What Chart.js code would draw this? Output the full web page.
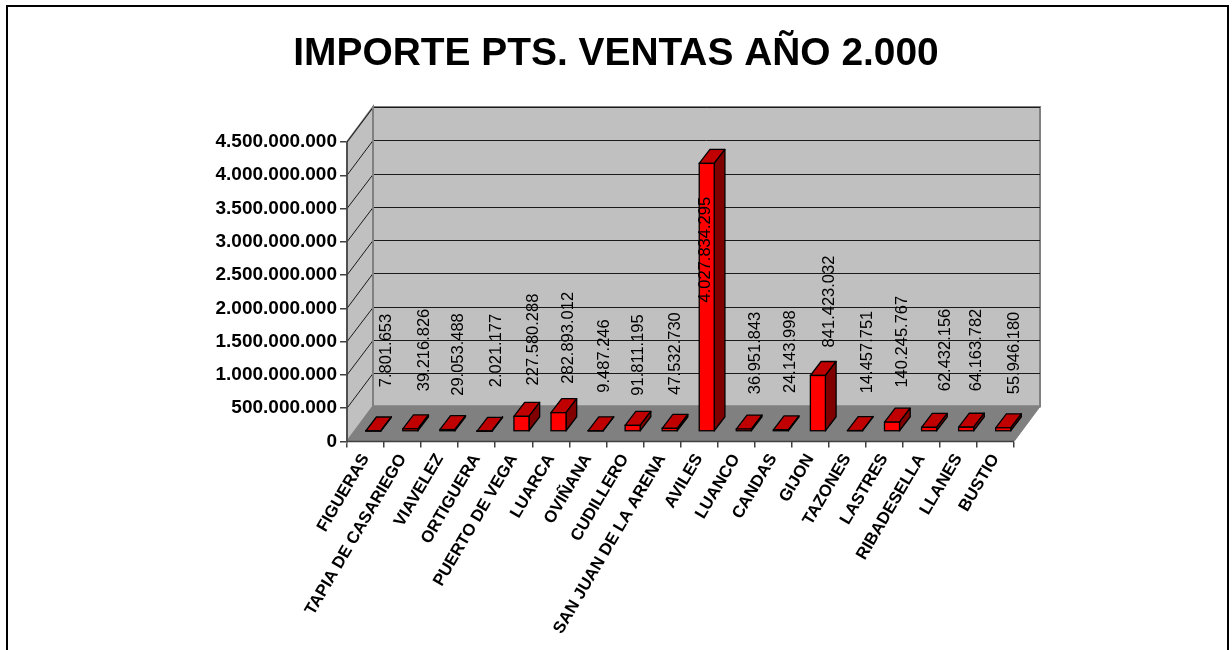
<!DOCTYPE html>
<html><head><meta charset="utf-8">
<style>html,body{margin:0;padding:0;background:#fff}canvas{display:block}#w{width:1232px;height:650px}</style>
<script src="https://cdn.jsdelivr.net/npm/chart.js@4"></script></head>
<body><div id="w"><canvas id="c" width="1232" height="650"></canvas></div>
<script>
const categories = ["FIGUERAS","TAPIA DE CASARIEGO","VIAVELEZ","ORTIGUERA","PUERTO DE VEGA","LUARCA","OVIÑANA","CUDILLERO","SAN JUAN DE LA ARENA","AVILES","LUANCO","CANDAS","GIJON","TAZONES","LASTRES","RIBADESELLA","LLANES","BUSTIO"];
const values = [7801653,39216826,29053488,2021177,227580288,282893012,9487246,91811195,47532730,4027834295,36951843,24143998,841423032,14457751,140245767,62432156,64163782,55946180];
const titleText = "IMPORTE PTS. VENTAS AÑO 2.000";
const yMax = 4500000000, yStep = 500000000;
// hand placement of the value labels, relative to the category centre / axis bottom
const labelDx = [21.2,21.4,18.4,19.3,19.5,17.5,16.4,13.4,13.7,6.6,18.9,17.5,19.7,20.7,18.3,24.2,18.5,19.4];
const labelLift = [91,91.5,87,91,102,103.7,85.5,86.5,88,191.8,88.5,89.8,140,89.5,99.8,91.5,91.5,88.5];

const dep = {wx:26, wy:-35, bx:7.7, by:-10, px:10.7, py:-14};
const fmt = v => String(Math.round(v)).replace(/\B(?=(\d{3})+$)/g, '.');
const FONT = '"Liberation Sans", Arial, sans-serif';

const scene = {
  id:'scene',
  beforeDraw(ch){
    const c=ch.ctx;
    c.save(); c.fillStyle='#fff'; c.fillRect(0,0,ch.width,ch.height);
    c.strokeStyle='#000'; c.lineWidth=2;
    c.beginPath(); c.moveTo(7,652); c.lineTo(7,6); c.lineTo(1228,6); c.lineTo(1228,652); c.stroke();
    c.restore();
  },
  beforeDatasetsDraw(ch){
    const c=ch.ctx, a=ch.chartArea, y=ch.scales.y;
    const {wx,wy}=dep, L=a.left,R=a.right,T=a.top,B=a.bottom;
    c.save();
    const poly=(pts,fill,stroke,lw)=>{c.beginPath();pts.forEach((p,i)=>i?c.lineTo(p[0],p[1]):c.moveTo(p[0],p[1]));c.closePath();c.fillStyle=fill;c.fill();if(stroke){c.strokeStyle=stroke;c.lineWidth=lw||1;c.stroke();}};
    poly([[L,B],[L+wx,B+wy],[R+wx,B+wy],[R,B]],'#808080','#808080',1);
    poly([[L,T],[L+wx,T+wy],[L+wx,B+wy],[L,B]],'#c0c0c0','#808080',2);
    poly([[L+wx,T+wy],[R+wx,T+wy],[R+wx,B+wy],[L+wx,B+wy]],'#c0c0c0','#808080',2);
    c.strokeStyle='#1a1a1a'; c.lineWidth=1;
    y.ticks.forEach(t=>{
      const p=y.getPixelForValue(t.value);
      if(t.value===0) return;
      const q=Math.round(p+wy)+0.5;
      c.beginPath(); c.moveTo(L,p); c.lineTo(L+wx,q); c.lineTo(R+wx,q); c.stroke();
    });
    c.strokeStyle='#808080'; c.lineWidth=2;
    c.beginPath(); c.moveTo(L+wx,T+wy); c.lineTo(L+wx,B+wy); c.lineTo(R+wx,B+wy); c.stroke();
    c.strokeStyle='#404040'; c.lineWidth=1.5;
    c.beginPath(); c.moveTo(L,T); c.lineTo(L,B); c.lineTo(R,B); c.stroke();
    c.restore();
  },
  beforeDatasetDraw(ch){
    const c=ch.ctx; const m=ch.getDatasetMeta(0); const {bx,by,px,py}=dep;
    c.save();
    c.lineWidth=1.3; c.strokeStyle='#000'; c.lineJoin='round';
    m.data.forEach(b=>{
      const l=b.x-b.width/2+bx, r=b.x+b.width/2+bx, t=b.y+by, u=b.base+by;
      c.fillStyle='#c00000';
      c.beginPath(); c.moveTo(l,t); c.lineTo(l+px,t+py); c.lineTo(r+px,t+py); c.lineTo(r,t); c.closePath(); c.fill(); c.stroke();
      c.fillStyle='#800000';
      c.beginPath(); c.moveTo(r,t); c.lineTo(r+px,t+py); c.lineTo(r+px,u+py); c.lineTo(r,u); c.closePath(); c.fill(); c.stroke();
    });
    c.restore();
    c.save(); c.translate(bx,by);
  },
  afterDatasetDraw(ch){
    const c=ch.ctx; c.restore();
    const m=ch.getDatasetMeta(0); const {bx,by}=dep;
    c.save(); c.strokeStyle='#000'; c.lineWidth=1.3;
    m.data.forEach(b=>{
      const l=b.x-b.width/2+bx, t=b.y+by, u=b.base+by;
      c.strokeRect(l,t,b.width,u-t);
    });
    c.restore();
  },
  afterDraw(ch){
    const c=ch.ctx, m=ch.getDatasetMeta(0), B=ch.chartArea.bottom;
    c.save(); c.fillStyle='#000'; c.font='16.5px '+FONT; c.textAlign='center'; c.textBaseline='middle';
    m.data.forEach((b,i)=>{
      c.save(); c.translate(b.x+labelDx[i], B-labelLift[i]); c.rotate(-Math.PI/2);
      c.fillText(fmt(values[i]),0,0); c.restore();
    });
    c.restore();
  }
};

new Chart(document.getElementById('c'),{
  type:'bar',
  data:{labels:categories,datasets:[{data:values,backgroundColor:'#ff0000',borderWidth:0,categoryPercentage:1,barPercentage:0.405}]},
  plugins:[scene],
  options:{
    responsive:false,animation:false,
    layout:{padding:0},
    plugins:{legend:{display:false},tooltip:{enabled:false},
      title:{display:true,text:titleText,color:'#000',font:{family:FONT,size:38.9,weight:'bold',lineHeight:1.2},padding:{top:30.7,bottom:64.6}}},
    scales:{
      x:{afterFit:s=>{s.height=208.5},grid:{offset:true,drawOnChartArea:false,tickLength:6,color:'#404040',lineWidth:1.5},border:{display:false},
        ticks:{color:'#000',autoSkip:false,minRotation:59.5,maxRotation:59.5,padding:3,font:{family:FONT,size:16.8,weight:'bold'}}},
      y:{min:0,max:yMax,afterFit:s=>{s.width=347},grid:{drawOnChartArea:false,tickLength:7,color:'#404040',lineWidth:1.5},border:{display:false},
        ticks:{color:'#000',stepSize:yStep,padding:3,font:{family:FONT,size:19,weight:'bold'},callback:v=>fmt(v)}},
      rightMargin:{position:'right',display:true,afterFit:s=>{s.width=218},grid:{display:false},border:{display:false},ticks:{display:false}}
    }
  }
});
</script></body></html>
